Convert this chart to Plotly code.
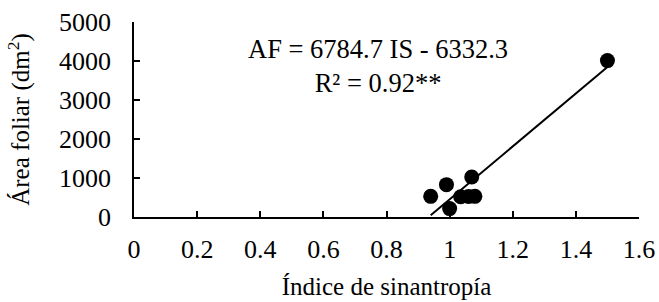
import numpy as np
import plotly.graph_objects as go

# Data
indice_sinantropia = [0.94, 0.99, 1.00, 1.035, 1.06, 1.08, 1.07, 1.50]
area_foliar = [530, 830, 215, 520, 525, 530, 1025, 4010]

# Trendline coefficients (from the chart's equation)
slope = 6784.7
intercept = -6332.3
r2_text = "R² = 0.92**"

x_ticks = [0, 0.2, 0.4, 0.6, 0.8, 1, 1.2, 1.4, 1.6]
y_ticks = [0, 1000, 2000, 3000, 4000, 5000]

FONT = "Liberation Serif, Times New Roman, serif"

fig = go.Figure()

xl = np.array([min(indice_sinantropia), max(indice_sinantropia)])
fig.add_trace(go.Scatter(x=xl, y=slope * xl + intercept, mode="lines",
                         line=dict(color="black", width=2), showlegend=False,
                         hoverinfo="skip"))
fig.add_trace(go.Scatter(x=indice_sinantropia, y=area_foliar, mode="markers",
                         marker=dict(color="black", size=15), showlegend=False))

fig.add_annotation(x=0.773, y=3860, xref="x", yref="y",
                   text="AF = 6784.7 IS - 6332.3<br>" + r2_text,
                   showarrow=False, font=dict(family=FONT, size=26.5, color="black"),
                   align="center")

fig.update_xaxes(range=[0, 1.6], tickvals=x_ticks, ticktext=[f"{v:g}" for v in x_ticks],
                 showline=True, linecolor="black", linewidth=1.5,
                 ticks="inside", ticklen=6, tickcolor="black", tickwidth=1.5,
                 showgrid=False, zeroline=False, automargin=False,
                 ticklabelstandoff=8, ticklabeloverflow="allow",
                 title=dict(text="Índice de sinantropía", font=dict(family=FONT, size=25, color="black"), standoff=15),
                 tickfont=dict(family=FONT, size=26, color="black"))
fig.update_yaxes(range=[0, 5000], tickvals=y_ticks,
                 showline=True, linecolor="black", linewidth=1.5,
                 ticks="inside", ticklen=6, tickcolor="black", tickwidth=1.5,
                 showgrid=False, zeroline=False, automargin=False,
                 ticklabelstandoff=16,
                 title=dict(text="Área foliar (dm<sup>2</sup>)", font=dict(family=FONT, size=25, color="black"), standoff=22),
                 tickfont=dict(family=FONT, size=26, color="black"))

fig.update_layout(width=659, height=302, plot_bgcolor="white", paper_bgcolor="white",
                  margin=dict(l=134, r=20, t=22, b=84.5))

fig.write_html("out.html", config={"displayModeBar": False},
               post_script="document.body.style.margin='0';document.body.style.overflow='hidden';")
